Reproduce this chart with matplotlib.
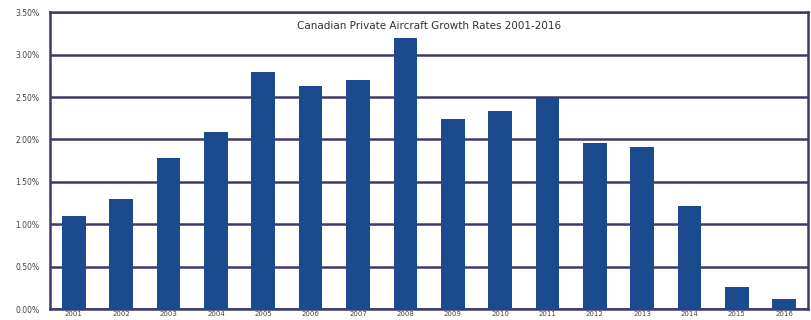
import matplotlib
matplotlib.use("Agg")
import matplotlib.pyplot as plt
from matplotlib.ticker import FuncFormatter

# data
years = ['2001', '2002', '2003', '2004', '2005', '2006', '2007', '2008',
         '2009', '2010', '2011', '2012', '2013', '2014', '2015', '2016']
growth = [1.10, 1.30, 1.78, 2.09, 2.79, 2.63, 2.70, 3.19,
          2.24, 2.34, 2.49, 1.96, 1.91, 1.21, 0.26, 0.12]
yticks = [0.0, 0.5, 1.0, 1.5, 2.0, 2.5, 3.0, 3.5]

barColor = '#1b4a8e'
gridColor = '#3d3a6b'

fig = plt.figure(figsize=(8.11, 3.2), dpi=100, facecolor='white')
ax = fig.add_axes([0.062, 0.034, 0.934, 0.928])

ax.bar(range(len(years)), growth, width=0.5, color=barColor, zorder=3)

ax.set_xlim(-0.5, len(years) - 0.5)
ax.set_ylim(0, 3.5)
ax.set_yticks(yticks)
ax.yaxis.set_major_formatter(FuncFormatter(lambda v, p: '%.2f%%' % v))
ax.set_xticks(range(len(years)))
ax.set_xticklabels(years)
ax.tick_params(axis='both', length=0, labelsize=5.5, colors='#444444')
ax.tick_params(axis='x', pad=1, labelsize=5)
ax.tick_params(axis='y', pad=8)

ax.grid(axis='y', color=gridColor, linewidth=1.8, zorder=1)
for s in ax.spines.values():
    s.set_color(gridColor)
    s.set_linewidth(1.8)

ax.text(0.5, 0.97, 'Canadian Private Aircraft Growth Rates 2001-2016',
        transform=ax.transAxes, ha='center', va='top', fontsize=7.5,
        color='#333333', zorder=4)

fig.savefig('out.png', dpi=100, facecolor='white')
